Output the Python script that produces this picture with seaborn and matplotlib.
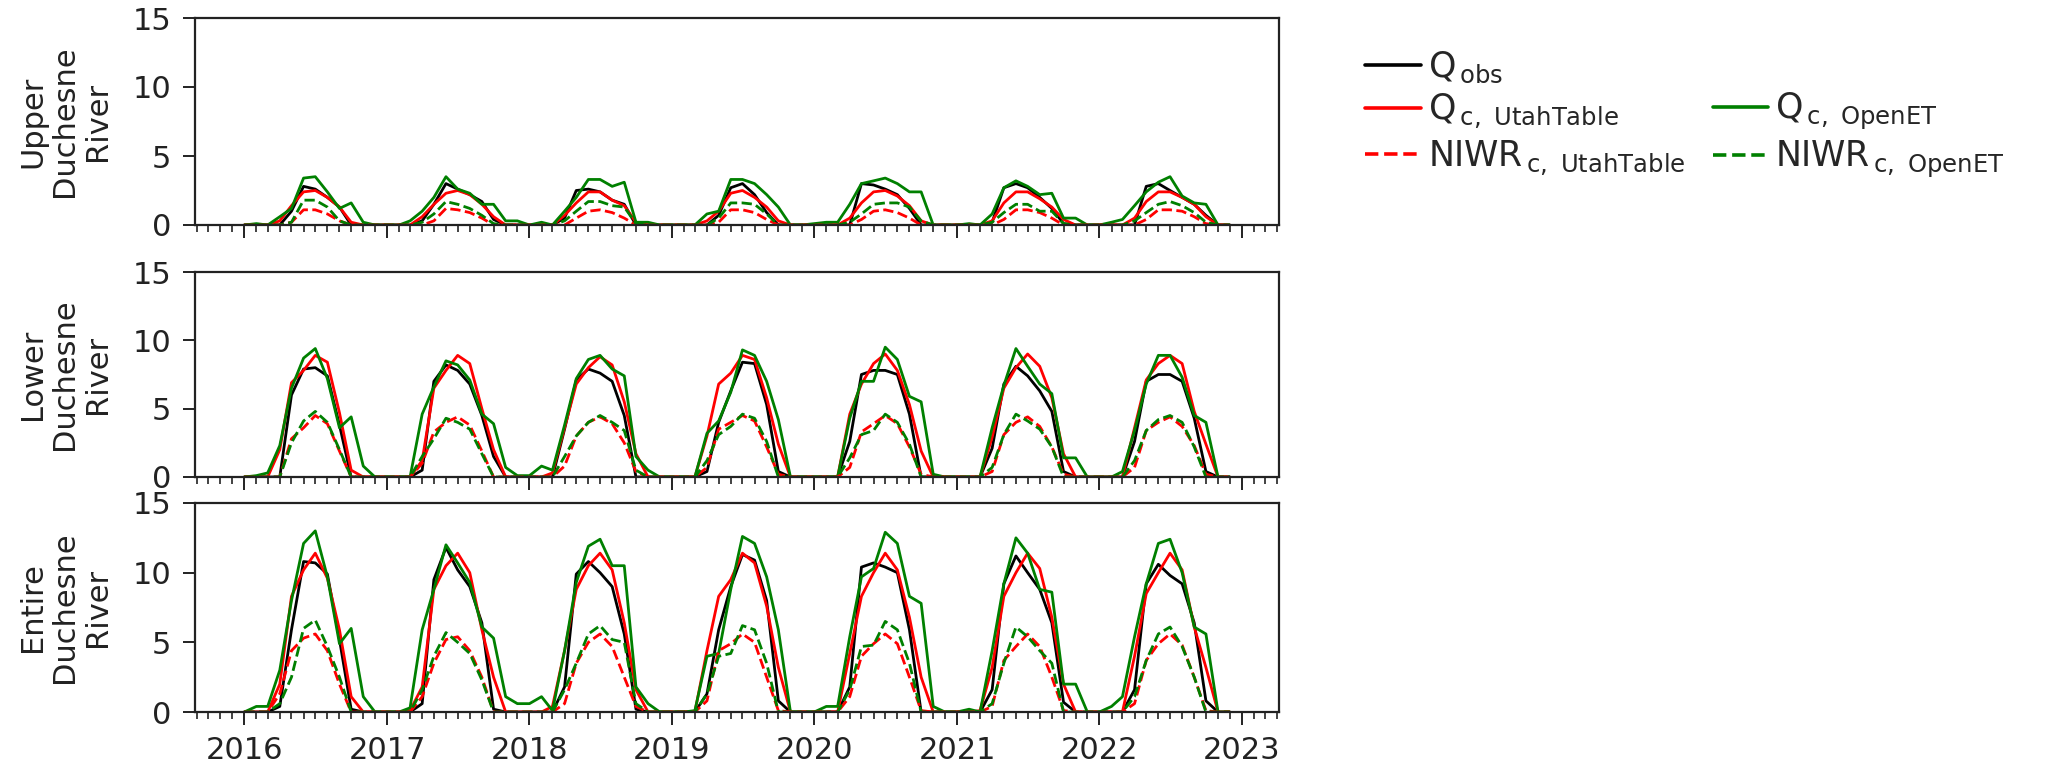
import numpy as np
import pandas as pd
import matplotlib
matplotlib.use("Agg")
import matplotlib.pyplot as plt
import matplotlib.dates as mdates
from matplotlib.lines import Line2D
import seaborn as sns

# ---------------- data (monthly, Jan 2016 .. Dec 2022) ----------------
months = pd.date_range("2016-01-01", "2022-12-01", freq="MS")

upper_qobs = [0,0,0,0,1.0,2.8,2.6,2.0,1.3,0,0,0,
              0,0,0,0.3,1.5,3.0,2.6,2.2,1.7,0.4,0,0,
              0,0,0,0.5,2.5,2.6,2.4,1.8,1.5,0,0,0,
              0,0,0,0,0.7,2.7,3.0,2.2,0.9,0,0,0,
              0,0,0,0,3.0,2.9,2.6,2.2,1.2,0,0,0,
              0,0,0,0.2,2.7,3.0,2.7,2.0,1.2,0.1,0,0,
              0,0,0,0,2.8,3.0,2.5,2.0,1.5,0.7,0,0]
upper_qc_utah = [0,0,0,0.3,1.4,2.4,2.5,2.0,1.3,0.2,0,0,
                 0,0,0,0.6,1.5,2.3,2.5,2.2,1.5,0.6,0,0,
                 0,0,0,0.7,1.6,2.4,2.4,1.8,1.4,0.2,0,0,
                 0,0,0,0.3,1.0,2.3,2.5,2.0,1.3,0.3,0,0,
                 0,0,0,0.5,1.6,2.4,2.5,2.1,1.4,0.3,0,0,
                 0,0,0,0.3,1.6,2.4,2.4,1.9,1.3,0.4,0,0,
                 0,0,0,0.5,1.7,2.4,2.4,2.0,1.5,0.6,0,0]
upper_qc_openet = [0,0.1,0,0.6,1.2,3.4,3.5,2.4,1.2,1.6,0.2,0,
                   0,0,0.3,1.0,2.0,3.5,2.6,2.3,1.5,1.5,0.3,0.3,
                   0,0.2,0,1.0,2.0,3.3,3.3,2.8,3.1,0.2,0.2,0,
                   0,0,0,0.8,1.0,3.3,3.3,3.0,2.2,1.3,0,0,
                   0.1,0.2,0.2,1.5,3.0,3.2,3.4,3.0,2.4,2.4,0,0,
                   0,0.1,0,0.8,2.7,3.2,2.8,2.2,2.3,0.5,0.5,0,
                   0,0.2,0.4,1.4,2.4,3.1,3.5,2.1,1.6,1.5,0,0]
upper_niwr_utah = [0,0,0,0,0.2,1.1,1.1,0.8,0.3,0,0,0,
                   0,0,0,0,0.3,1.2,1.1,0.9,0.5,0,0,0,
                   0,0,0,0,0.5,1.0,1.1,0.9,0.5,0,0,0,
                   0,0,0,0,0.2,1.1,1.1,0.9,0.4,0,0,0,
                   0,0,0,0,0.4,1.0,1.1,0.9,0.5,0,0,0,
                   0,0,0,0,0.4,1.1,1.1,0.9,0.5,0,0,0,
                   0,0,0,0,0.4,1.1,1.1,1.0,0.6,0.1,0,0]
upper_niwr_openet = [0,0,0,0,0.2,1.8,1.8,1.3,0.3,0,0,0,
                     0,0,0,0.2,0.8,1.7,1.5,1.2,0.7,0.1,0,0,
                     0,0,0,0.3,1.0,1.7,1.7,1.4,1.3,0.1,0,0,
                     0,0,0,0,0.5,1.6,1.6,1.5,0.8,0,0,0,
                     0,0,0,0.2,0.8,1.5,1.6,1.6,1.3,0.3,0,0,
                     0,0,0,0.2,0.9,1.5,1.5,1.0,1.0,0.1,0,0,
                     0,0,0,0.3,0.9,1.5,1.7,1.4,0.9,0.2,0,0]

lower_qobs = [0,0,0,0,6.0,7.9,8.0,7.4,3.8,0,0,0,
              0,0,0,0.5,7.0,8.2,7.8,6.8,4.5,1.5,0,0,
              0,0,0,3.5,7.1,7.9,7.6,7.0,4.5,0,0,0,
              0,0,0,0.4,4.0,6.3,8.4,8.3,5.3,0.4,0,0,
              0,0,0,2.6,7.5,7.8,7.8,7.5,4.6,0,0,0,
              0,0,0,2.1,6.8,8.1,7.4,6.3,4.8,0.4,0,0,
              0,0,0,2.6,7.0,7.5,7.5,7.0,4.3,0.4,0,0]
lower_qc_utah = [0,0,0,2.0,6.9,7.8,8.9,8.4,4.7,0.5,0,0,
                 0,0,0,1.2,6.5,7.8,8.9,8.3,5.0,2.0,0,0,
                 0,0,0.3,3.6,6.8,8.0,8.8,8.2,5.5,1.7,0,0,
                 0,0,0,3.0,6.8,7.6,8.9,8.6,5.8,2.4,0,0,
                 0,0,0,4.6,6.8,8.3,9.0,7.8,5.3,1.9,0,0,
                 0,0,0,2.9,6.5,8.0,9.0,8.1,5.8,1.7,0,0,
                 0,0,0,3.6,7.1,8.3,8.9,8.3,4.8,2.4,0,0]
lower_qc_openet = [0,0.1,0.3,2.3,6.5,8.7,9.4,7.2,3.6,4.4,0.8,0,
                   0,0,0,4.6,6.6,8.5,8.2,7.1,4.6,3.9,0.7,0.1,
                   0.1,0.8,0.5,3.8,7.2,8.6,8.9,7.9,7.4,1.5,0.5,0,
                   0,0,0,3.2,4.1,6.2,9.3,8.9,7.0,4.2,0,0,
                   0,0,0,4.3,7.0,7.0,9.5,8.6,5.9,5.5,0.2,0,
                   0,0,0,3.6,6.7,9.4,8.1,6.8,6.1,1.4,1.4,0,
                   0,0,0.4,3.4,6.8,8.9,8.9,7.3,4.5,4.0,0,0]
lower_niwr_utah = [0,0,0,0,2.8,3.6,4.5,3.9,1.9,0,0,0,
                   0,0,0,1.0,3.3,4.0,4.4,3.8,1.9,0,0,0,
                   0,0,0,0.8,3.0,4.0,4.4,3.9,2.5,0.4,0,0,
                   0,0,0,0.7,3.5,4.0,4.5,4.1,2.2,0.2,0,0,
                   0,0,0,0.7,3.3,3.9,4.5,3.9,2.2,0.2,0,0,
                   0,0,0,0.4,3.1,4.0,4.4,3.7,2.2,0.2,0,0,
                   0,0,0,0.7,3.4,4.0,4.4,3.7,2.3,0.2,0,0]
lower_niwr_openet = [0,0,0,0,2.5,4.1,4.8,4.0,2.0,0,0,0,
                     0,0,0,1.5,2.8,4.3,4.0,3.5,1.7,0,0,0,
                     0,0,0,1.5,3.0,4.0,4.5,4.0,3.4,0.5,0,0,
                     0,0,0,1.2,3.1,3.7,4.6,4.3,2.6,0,0,0,
                     0,0,0,1.4,3.1,3.4,4.6,4.0,2.4,0,0,0,
                     0,0,0,0.7,3.1,4.6,4.1,3.5,2.2,0,0,0,
                     0,0,0,1.2,3.4,4.2,4.5,4.0,2.2,0,0,0]

entire_qobs = [0,0,0,0.4,5.9,10.8,10.7,9.9,5.2,0.2,0,0,
               0,0,0,0.6,9.5,11.8,10.2,9.0,6.4,0.2,0,0,
               0,0,0,1.8,9.9,10.8,10.0,9.0,5.6,0.2,0,0,
               0,0,0,1.3,5.9,9.0,11.3,10.9,8.0,0.8,0,0,
               0,0,0,1.8,10.4,10.7,10.4,10.0,5.9,0,0,0,
               0,0,0,1.6,9.2,11.2,10.0,8.8,6.4,0.7,0,0,
               0,0,0,1.6,9.2,10.6,9.8,9.2,6.4,0.8,0,0]
entire_qc_utah = [0,0,0,2.0,8.3,10.2,11.4,9.6,5.9,1.1,0,0,
                  0,0,0.1,1.8,8.8,10.5,11.4,10.0,5.9,2.5,0,0,
                  0,0,0.4,4.4,8.8,10.5,11.4,10.2,6.4,1.6,0,0,
                  0,0,0,4.4,8.3,9.5,11.4,10.7,7.6,3.2,0,0,
                  0,0,0,4.2,8.3,10.0,11.4,10.2,6.8,2.5,0,0,
                  0,0,0.1,3.2,8.3,10.0,11.4,10.3,6.8,2.0,0,0,
                  0,0,0,4.0,8.5,10.0,11.4,10.2,6.1,3.2,0,0]
entire_qc_openet = [0,0.4,0.4,3.0,8.0,12.1,13.0,9.7,4.9,6.0,1.1,0,
                    0,0,0.3,5.9,8.8,12.0,10.7,9.3,6.1,5.3,1.1,0.6,
                    0.6,1.1,0.1,4.4,9.3,11.9,12.4,10.5,10.5,1.8,0.6,0,
                    0,0,0.1,4.0,4.2,8.8,12.6,12.1,9.7,5.9,0,0,
                    0,0.4,0.4,5.4,9.7,10.3,12.9,12.1,8.3,7.8,0.4,0,
                    0,0.2,0,4.4,9.2,12.5,11.4,8.8,8.6,2.0,2.0,0,
                    0,0.4,1.1,5.4,9.2,12.1,12.4,10.0,6.1,5.6,0,0]
entire_niwr_utah = [0,0,0,1.3,4.4,5.3,5.6,4.4,2.0,0,0,0,
                    0,0,0,1.1,3.5,5.2,5.4,4.4,2.5,0,0,0,
                    0,0,0,0.6,3.5,5.0,5.6,4.7,2.5,0.4,0,0,
                    0,0,0,0.8,4.4,4.9,5.6,5.0,2.5,0.1,0,0,
                    0,0,0,1.1,4.0,4.9,5.6,4.9,2.5,0.1,0,0,
                    0,0,0,0.4,3.7,4.7,5.6,4.7,2.5,0.1,0,0,
                    0,0,0,0.6,3.7,4.9,5.6,4.8,2.5,0.1,0,0]
entire_niwr_openet = [0,0,0,0.6,2.5,6.0,6.6,4.7,2.5,0,0,0,
                      0,0,0,1.6,4.0,5.7,5.0,4.2,2.3,0,0,0,
                      0,0,0,1.6,3.5,5.6,6.2,5.2,5.0,0.6,0,0,
                      0,0,0,1.3,4.0,4.2,6.2,5.9,3.5,0,0,0,
                      0,0,0,1.6,4.7,4.8,6.5,5.9,3.5,0,0,0,
                      0,0,0,0.6,3.5,6.1,5.4,4.4,3.5,0,0,0,
                      0,0,0,1.1,3.7,5.6,6.1,4.7,2.5,0,0,0]

panel_labels = ["Upper\nDuchesne\nRiver", "Lower\nDuchesne\nRiver", "Entire\nDuchesne\nRiver"]
series_labels = [r"Q$_{\,\mathrm{obs}}$", r"Q$_{\,\mathrm{c,\ UtahTable}}$", r"Q$_{\,\mathrm{c,\ OpenET}}$",
                 r"NIWR$_{\,\mathrm{c,\ UtahTable}}$", r"NIWR$_{\,\mathrm{c,\ OpenET}}$"]
y_ticks = [0, 5, 10, 15]

panels = [
    [upper_qobs, upper_qc_utah, upper_qc_openet, upper_niwr_utah, upper_niwr_openet],
    [lower_qobs, lower_qc_utah, lower_qc_openet, lower_niwr_utah, lower_niwr_openet],
    [entire_qobs, entire_qc_utah, entire_qc_openet, entire_niwr_utah, entire_niwr_openet],
]
colors = ["black", "#ff0000", "#008000", "#ff0000", "#008000"]
styles = ["-", "-", "-", "--", "--"]

# ---------------- style ----------------
sns.set_style("ticks")
plt.rcParams["font.family"] = ["DejaVu Sans"]
plt.rcParams["mathtext.fontset"] = "dejavusans"

fig = plt.figure(figsize=(20.48, 7.67), dpi=100)
fig.patch.set_facecolor("white")

left, width = 195 / 2048, (1279 - 195) / 2048
boxes = [(18, 225), (272, 477), (503, 712)]
axes = []
for i, (top, bot) in enumerate(boxes):
    ax = fig.add_axes([left, 1 - bot / 767, width, (bot - top) / 767])
    axes.append(ax)
    for vals, c, ls, lab in zip(panels[i], colors, styles, series_labels):
        sns.lineplot(x=months, y=vals, ax=ax, color=c, linestyle=ls, linewidth=2.0,
                     legend=False, errorbar=None)
    ax.set_ylim(0, 15)
    ax.set_yticks(y_ticks)
    ax.xaxis.set_major_locator(mdates.YearLocator())
    ax.xaxis.set_minor_locator(mdates.MonthLocator())
    ax.xaxis.set_major_formatter(mdates.DateFormatter("%Y"))
    ax.tick_params(axis="both", which="major", direction="out", length=9, width=1.4,
                   labelsize=22, color="#222222", labelcolor="#222222")
    ax.tick_params(axis="x", which="minor", direction="out", length=5, width=1.2, color="#222222")
    ax.tick_params(axis="y", which="major", pad=8)
    ax.tick_params(axis="x", which="major", pad=8)
    for sp in ax.spines.values():
        sp.set_linewidth(1.6)
        sp.set_color("#222222")
    ax.set_xlabel("")
    ax.set_ylabel("")
    if i < 2:
        ax.tick_params(axis="x", labelbottom=False)
    cy = 1 - (top + bot) / 2 / 767
    fig.text(65 / 2048, cy, panel_labels[i], rotation=90, ha="center", va="center",
             multialignment="center", fontsize=22, color="#222222", linespacing=1.15)

# ---------------- legend ----------------
h = [Line2D([], [], color=c, linestyle=ls, linewidth=2.6) for c, ls in zip(colors, styles)]
blank = Line2D([], [], color="none")
handles = [h[0], h[1], h[3], blank, h[2], h[4]]
labels = [series_labels[0], series_labels[1], series_labels[3], " ", series_labels[2], series_labels[4]]
fig.legend(handles, labels, loc="upper left", bbox_to_anchor=(1365 / 2048, 1 - 50 / 767),
           ncol=2, frameon=False, fontsize=25, handlelength=1.6, handletextpad=0.2,
           labelspacing=0.2, columnspacing=0.8, borderpad=0, borderaxespad=0)

fig.savefig("out.png", dpi=100, facecolor="white")
